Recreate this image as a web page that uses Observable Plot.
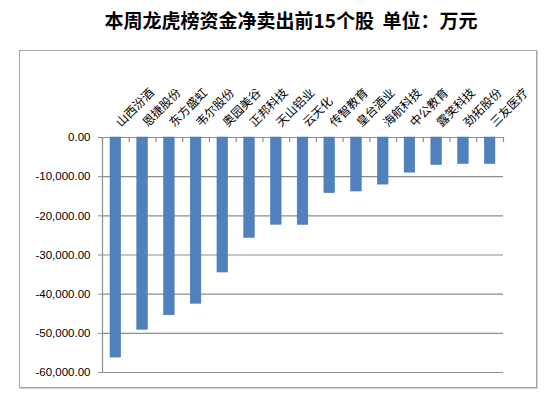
<!DOCTYPE html>
<html><head><meta charset="utf-8">
<script src="https://cdn.jsdelivr.net/npm/d3@7"></script>
<script src="https://cdn.jsdelivr.net/npm/@observablehq/plot@0.6"></script>
<style>
html,body{margin:0;padding:0;background:#fff;}
#wrap{position:relative;width:554px;height:397px;overflow:hidden;}
#title{position:absolute;left:0;width:582px;top:6px;text-align:center;font-family:"Noto Sans CJK SC",sans-serif;font-weight:700;font-size:19px;color:#000;white-space:nowrap;}
#box{position:absolute;left:19px;top:50px;width:516px;height:336px;border:1px solid #a6a6a6;box-shadow:1px 1px 0 #d0d0d0;}
#box svg{position:absolute;left:0;top:0;}
</style></head>
<body><div id="wrap"><div id="title">本周龙虎榜资金净卖出前15个股&nbsp;&nbsp;单位：万元</div><div id="box"></div></div>
<script>
const stocks = ["山西汾酒","恩捷股份","东方盛虹","韦尔股份","奥园美谷","正邦科技","天山铝业","云天化","传智教育","皇台酒业","海航科技","中公教育","露笑科技","劲拓股份","三友医疗"];
const netSell = [-56200,-49100,-45400,-42450,-34480,-25670,-22280,-22330,-14230,-13800,-12030,-8980,-7030,-6780,-6780];
const yTicks = [0,-10000,-20000,-30000,-40000,-50000,-60000];

const data = stocks.map((name,i)=>({name, value: netSell[i]}));
const W = 516, H = 336, mL = 82, mR = 33, mT = 86, mB = 15;
const step = (W - mL - mR) / stocks.length;
const plotH = H - mT - mB;
const fmt = d => d3.format(",.2f")(d).replace("\u2212","-");
const grid = "#8e8e8e";

const chart = Plot.plot({
  width: W, height: H,
  marginLeft: mL, marginRight: mR, marginTop: mT, marginBottom: mB,
  style: {fontFamily: "'Liberation Sans', Arial, sans-serif", background: "transparent", overflow: "visible"},
  x: {domain: stocks, paddingInner: 0.6, paddingOuter: 0.3, round: false, axis: null},
  y: {domain: [-60000, 0]},
  marks: [
    Plot.gridY(yTicks, {stroke: grid, strokeOpacity: 1, strokeWidth: 1.2}),
    Plot.axisY(yTicks, {label: null, tickSize: 4, tickPadding: 8, tickFormat: fmt, stroke: grid, fontSize: 11.5, fill: "#000"}),
    Plot.barY(data, {x: "name", y: "value", fill: "#4f81bd", stroke: "#4a7ab3", strokeWidth: 0.5}),
    Plot.ruleX([stocks[0]], {dx: -step/2, stroke: grid, strokeWidth: 1.2}),
    Plot.ruleX(stocks, {dx: -step/2, stroke: grid, strokeWidth: 1.2, insetBottom: plotH - 5}),
    Plot.ruleX([stocks[stocks.length-1]], {dx: step/2, stroke: grid, strokeWidth: 1.2, insetBottom: plotH - 5}),
    Plot.text(stocks, {x: d => d, frameAnchor: "top", text: d => d, rotate: -45, textAnchor: "start", dx: -1, dy: -16, fontSize: 12, fill: "#000", fontFamily: "'Noto Sans CJK SC', sans-serif"})
  ]
});
document.getElementById("box").appendChild(chart);
</script></body></html>
